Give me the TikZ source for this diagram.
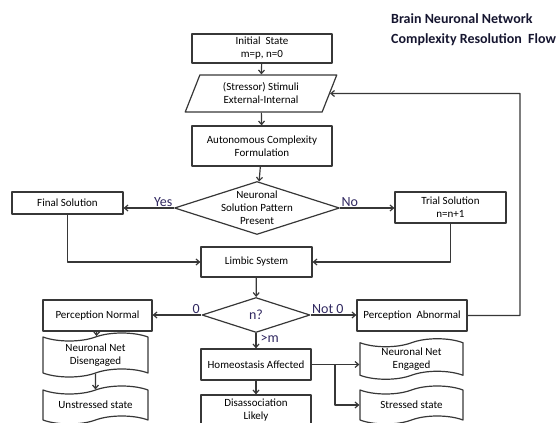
\documentclass[tikz,border=0pt]{standalone}
\usepackage{fontspec}
\setmainfont{Carlito}
\usetikzlibrary{shapes.geometric,shapes.symbols,arrows.meta}
\definecolor{linegray}{RGB}{55,55,55}
\definecolor{answerblue}{RGB}{48,40,96}
\definecolor{titleblue}{RGB}{22,22,48}
\begin{document}
\begin{tikzpicture}[x=1pt,y=-1pt,font=\fontsize{11}{13}\selectfont,line join=round,>={Straight Barb[length=3.5pt,width=6pt]},
  box/.style={draw=linegray,line width=1.2pt,rectangle,align=center,inner sep=1pt},
  iobox/.style={draw=linegray,line width=1.2pt,trapezium,trapezium left angle=68,trapezium right angle=112,trapezium stretches=true,align=center,inner sep=1pt},
  decide/.style={draw=linegray,line width=1.2pt,diamond,inner sep=0pt},
  tapebox/.style={draw=linegray,line width=1.2pt,tape,tape bend top=in and out,tape bend bottom=in and out,tape bend height=8pt,align=center,inner sep=1pt},
  flow/.style={draw=linegray,line width=1.2pt,->},
  answer/.style={text=answerblue,font=\fontsize{14}{16}\selectfont,inner sep=1pt}]
\clip (0,0) rectangle (558,423);
\node[anchor=north west,align=left,inner sep=0pt,text=titleblue,font=\bfseries\fontsize{14}{20}\selectfont] (title) at (391,13) {Brain Neuronal Network\\Complexity Resolution~~Flow};
\node[box,minimum width=140,minimum height=29] (init) at (262,48.5) {Initial~~State\\m=p, n=0};
\node[iobox,minimum width=152,minimum height=37] (stim) at (261,93.5) {(Stressor) Stimuli\\External-Internal};
\node[box,minimum width=140,minimum height=40] (auto) at (262,146) {Autonomous Complexity\\Formulation};
\node[decide,minimum width=165,minimum height=53] (pattern) at (257,208) {};
\node[align=center,inner sep=0pt] (patterntext) at (pattern.center) {Neuronal\\Solution Pattern\\Present};
\node[box,minimum width=111,minimum height=22] (final) at (67.5,203) {Final Solution};
\node[box,minimum width=111,minimum height=31] (trial) at (450.5,207.5) {Trial Solution\\n=n+1};
\node[box,minimum width=111,minimum height=30] (limbic) at (256.5,262) {Limbic System};
\node[decide,minimum width=108,minimum height=35,text=answerblue,font=\fontsize{14}{16}\selectfont] (count) at (256,315) {n?};
\node[box,minimum width=109,minimum height=31] (pnorm) at (97.5,315.5) {Perception Normal};
\node[box,minimum width=110,minimum height=31] (pabn) at (412,315.5) {Perception~~Abnormal};
\node[box,minimum width=110,minimum height=31] (homeo) at (256,364.5) {Homeostasis Affected};
\node[box,minimum width=110,minimum height=31] (disso) at (256,410.5) {Disassociation\\Likely};
\node[tapebox,minimum width=105,minimum height=44] (disengaged) at (95.5,355) {Neuronal Net\\Disengaged};
\node[tapebox,minimum width=105,minimum height=38] (unstressed) at (95.5,405) {Unstressed state};
\node[tapebox,minimum width=103,minimum height=36] (engaged) at (411.5,359) {Neuronal Net\\Engaged};
\node[tapebox,minimum width=103,minimum height=38] (stressed) at (411.5,405) {Stressed state};
\coordinate (loop) at (520,93.5);
\coordinate (split) at (335,364.5);
\draw[flow] (init) -- (stim);
\draw[flow] (stim) -- (auto);
\draw[flow] (auto) -- (pattern);
\draw[flow] (pattern.west) -- (pattern.west -| final.east) node[answer,at start,above left]{Yes};
\draw[flow] (pattern.east) -- (pattern.east -| trial.west) node[answer,at start,above right]{No};
\draw[flow] (final.south) |- (limbic.west);
\draw[flow] (trial.south) |- (limbic.east);
\draw[flow] (limbic) -- (count);
\draw[flow] (count.west) -- (count.west -| pnorm.east) node[answer,at start,above left]{0};
\draw[flow] (count.east) -- (count.east -| pabn.west) node[answer,at start,above right]{Not 0};
\draw[flow] (pabn.east) -| (loop) -- (stim.east);
\draw[flow] (count.south) -- (homeo.north) node[answer,at start,below right,xshift=3pt]{>m};
\draw[flow] (homeo) -- (disso);
\draw[flow] (homeo.east) -- (split) -- (split -| engaged.west);
\draw[flow] (split) |- (stressed.west);
\draw[flow] (pnorm) -- (disengaged);
\draw[flow] (disengaged) -- (unstressed);
\end{tikzpicture}
\end{document}
